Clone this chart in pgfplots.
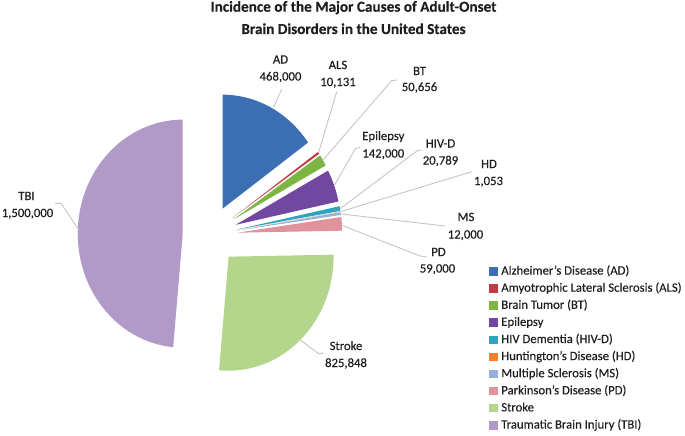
\documentclass[border=0pt]{standalone}
\usepackage{fontspec}
\setmainfont{Carlito}
\newfontfamily\lblfont[FakeBold=0.35]{Carlito}
\newfontfamily\ttlfont[FakeBold=0.3]{Carlito Bold}
\usepackage{pgfplots}
\usepackage{pgfplotstable}
\pgfplotsset{compat=1.18}

\definecolor{cAD}{HTML}{3C6EB4}
\definecolor{cALS}{HTML}{C23A44}
\definecolor{cBT}{HTML}{7DB543}
\definecolor{cEP}{HTML}{7247A0}
\definecolor{cHIV}{HTML}{2DA5BE}
\definecolor{cHD}{HTML}{F08030}
\definecolor{cMS}{HTML}{96B0DC}
\definecolor{cPD}{HTML}{E0939A}
\definecolor{cST}{HTML}{B4D68C}
\definecolor{cTBI}{HTML}{B29AC8}
\definecolor{leadc}{HTML}{C4C4C4}
\definecolor{txt}{HTML}{1E1E1E}

\pgfplotstableread{
name value
AD 468000
ALS 10131
BT 50656
Epilepsy 142000
HIV-D 20789
HD 1053
MS 12000
PD 59000
Stroke 825848
TBI 1500000
}\pietable

\gdef\pcum{0}
\foreach \i in {0,...,9}{%
  \pgfplotstablegetelem{\i}{value}\of\pietable
  \expandafter\xdef\csname pstart\i\endcsname{\pcum}%
  \xdef\pcum{\fpeval{\pcum+\pgfplotsretval}}%
  \expandafter\xdef\csname pend\i\endcsname{\pcum}%
}

% one exploded wedge: angles clockwise from the top, pixel coordinates (y down)
\newcommand\pieslice[2]{%
  \edef\psA{\fpeval{round(360*\csname pstart#1\endcsname/\pcum,5)}}%
  \edef\psB{\fpeval{round(360*\csname pend#1\endcsname/\pcum,5)}}%
  \edef\psM{\fpeval{(\psA+\psB)/2}}%
  \edef\psX{\fpeval{round(210+27.3*sind(\psM),4)}}%
  \edef\psY{\fpeval{round(235-29.6*cosd(\psM),4)}}%
  \edef\pstemp{\noexpand\addplot[fill=#2, draw=none, samples at={0,1,...,80,81}, variable=\noexpand\t]
    ({\noexpand\t>80.5 ? \psX : \psX+105*sin(\psA+(\psB-\psA)*\noexpand\t/80)},
     {\noexpand\t>80.5 ? \psY : \psY-114*cos(\psA+(\psB-\psA)*\noexpand\t/80)});}%
  \pstemp}

\begin{document}
\begin{tikzpicture}[
  lbl/.style={anchor=base, inner sep=0pt, text=txt, font=\lblfont\fontsize{12.7}{15}\selectfont},
  ttl/.style={anchor=base, inner sep=0pt, text=txt, font=\ttlfont\fontsize{15.2}{18}\selectfont}]
\useasboundingbox (0,0) rectangle (685pt,436pt);
\begin{axis}[
  at={(0,0)}, anchor=south west,
  width=685pt, height=436pt, scale only axis,
  xmin=0, xmax=685, ymin=0, ymax=436, y dir=reverse,
  hide axis, clip=false,
  legend style={at={(axis cs:489.3,265.3)}, anchor=north west, draw=none, fill=none,
    inner sep=0pt, outer sep=0pt, row sep=4.4pt, column sep=0pt,
    font=\lblfont\fontsize{12.7}{15}\selectfont, text=txt,
    nodes={inner xsep=3pt, inner ysep=0pt, text height=9.3pt, text depth=3.4pt},
    cells={anchor=west}},
  legend image code/.code={\fill[#1] (0pt,-4pt) rectangle (9pt,4.5pt);},
  leader/.style={draw=leadc, line width=0.9pt, forget plot},
]
\pieslice{0}{cAD}\addlegendentry{Alzheimer’s Disease (AD)}
\pieslice{1}{cALS}\addlegendentry{Amyotrophic Lateral Sclerosis (ALS)}
\pieslice{2}{cBT}\addlegendentry{Brain Tumor (BT)}
\pieslice{3}{cEP}\addlegendentry{Epilepsy}
\pieslice{4}{cHIV}\addlegendentry{HIV Dementia (HIV-D)}
\pieslice{5}{cHD}\addlegendentry{Huntington’s Disease (HD)}
\pieslice{6}{cMS}\addlegendentry{Multiple Sclerosis (MS)}
\pieslice{7}{cPD}\addlegendentry{Parkinson’s Disease (PD)}
\pieslice{8}{cST}\addlegendentry{Stroke}
\pieslice{9}{cTBI}\addlegendentry{Traumatic Brain Injury (TBI)}

% leader lines
\addplot[leader] coordinates {(281.7,89.3) (273.3,107.5)};
\addplot[leader] coordinates {(336.7,91.7) (318.5,153)};
\addplot[leader] coordinates {(396.7,80) (391.7,80.7) (323,160)};
\addplot[leader] coordinates {(360,147.5) (355.5,148.5) (334.5,185)};
\addplot[leader] coordinates {(421.5,150) (417.5,150.5) (340.5,208.5)};
\addplot[leader] coordinates {(471.7,171.7) (341,211.5)};
\addplot[leader] coordinates {(445,226) (341.5,214)};
\addplot[leader] coordinates {(426,256.7) (420,256) (342.5,225.5)};
\addplot[leader] coordinates {(323,353.3) (318,353.3) (300.5,340)};
\addplot[leader] coordinates {(55,203.3) (61,203.3) (78.3,229)};

% labels
\node[lbl] at (axis cs:280.5,63.5) {AD};
\node[lbl] at (axis cs:280.5,80.5) {468,000};
\node[lbl] at (axis cs:338,69) {ALS};
\node[lbl] at (axis cs:338,86) {10,131};
\node[lbl] at (axis cs:419.5,75) {BT};
\node[lbl] at (axis cs:419.5,91) {50,656};
\node[lbl] at (axis cs:383.3,140) {Epilepsy};
\node[lbl] at (axis cs:383.3,157.5) {142,000};
\node[lbl] at (axis cs:440.5,147.5) {HIV-D};
\node[lbl] at (axis cs:440.5,164.5) {20,789};
\node[lbl] at (axis cs:489,168) {HD};
\node[lbl] at (axis cs:488.5,185) {1,053};
\node[lbl] at (axis cs:466,221) {MS};
\node[lbl] at (axis cs:465.5,238.5) {12,000};
\node[lbl] at (axis cs:438.5,256) {PD};
\node[lbl] at (axis cs:437.5,272.5) {59,000};
\node[lbl] at (axis cs:346,350) {Stroke};
\node[lbl] at (axis cs:346,367) {825,848};
\node[lbl] at (axis cs:26.5,200) {TBI};
\node[lbl] at (axis cs:27.5,217) {1,500,000};

% title
\node[ttl] at (axis cs:353.5,11.7) {Incidence of the Major Causes of Adult-Onset};
\node[ttl] at (axis cs:353.5,34) {Brain Disorders in the United States};
\end{axis}
\end{tikzpicture}
\end{document}
